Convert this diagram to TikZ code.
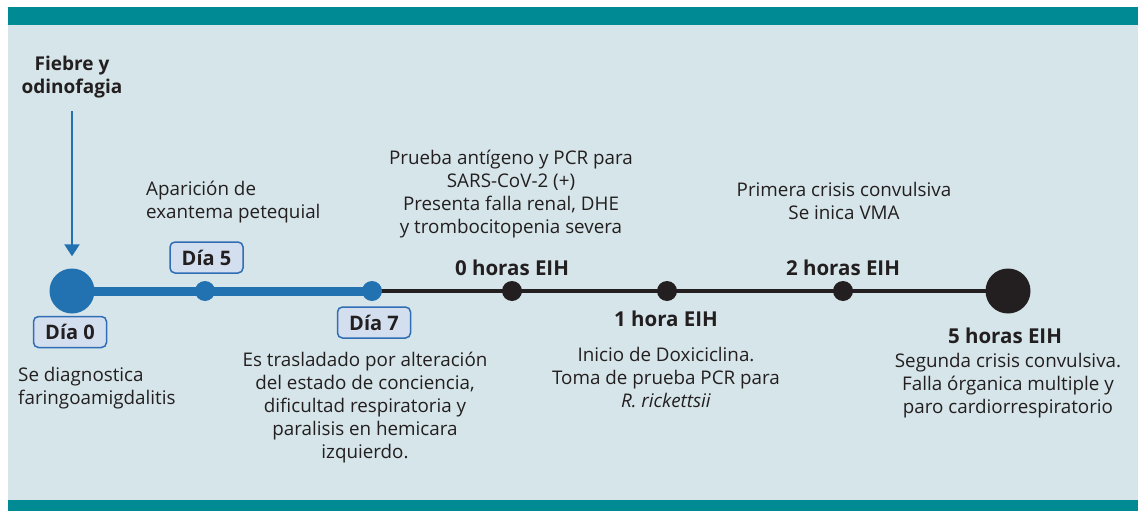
\documentclass[tikz,border=0pt]{standalone}
\usepackage{fontspec}
\setmainfont{Open Sans}
\usetikzlibrary{arrows.meta}
\definecolor{tealband}{HTML}{008B94}
\definecolor{panelbg}{HTML}{D6E5E9}
\definecolor{tlblue}{HTML}{2272B1}
\definecolor{boxfill}{HTML}{D3DEEF}
\definecolor{boxdraw}{HTML}{2F6DB5}
\definecolor{ink}{HTML}{231F20}
\pgfdeclarelayer{back}
\pgfsetlayers{back,main}
\tikzset{
  bigdot/.style={circle, inner sep=0, minimum size=45pt},
  smalldot/.style={circle, inner sep=0, minimum size=20pt},
  daybox/.style={draw=boxdraw, fill=boxfill, rounded corners=5pt, line width=1.5pt,
    font=\bfseries\fontsize{20}{22}\selectfont, text=ink, minimum width=73pt, minimum height=31pt, inner sep=0},
  txt/.style={align=center, font=\fontsize{18.8}{23}\selectfont, text=ink, inner sep=0},
  hrs/.style={font=\bfseries\fontsize{20.5}{23}\selectfont, text=ink, inner sep=0},
}
\begin{document}
\begin{tikzpicture}[x=1pt,y=-1pt]
\useasboundingbox (0,0) rectangle (1138,511);
\begin{pgfonlayer}{back}
\fill[white] (0,0) rectangle (1138,511);
\fill[panelbg] (8,7) rectangle (1138,511);
\fill[tealband] (8,7) rectangle (1138,25);
\fill[tealband] (8,500) rectangle (1138,511);
\end{pgfonlayer}

% timeline points
\node[bigdot, fill=tlblue] (d0) at (72,291) {};
\node[smalldot, fill=tlblue] (d5) at (205,291) {};
\node[smalldot, fill=tlblue] (d7) at (372,291) {};
\node[smalldot, fill=ink] (h0) at (512,291) {};
\node[smalldot, fill=ink] (h1) at (667,291) {};
\node[smalldot, fill=ink] (h2) at (843,291) {};
\node[bigdot, fill=ink] (h5) at (1008,291) {};

\begin{pgfonlayer}{back}
\draw[line width=9pt, tlblue] (d0.center) -- (d5.center) -- (d7.center);
\draw[line width=4pt, ink] (d7.center) -- (h0.center) -- (h1.center) -- (h2.center) -- (h5.center);
\end{pgfonlayer}

% day labels
\node[daybox] (l0) at (70,332) {Día 0};
\node[daybox] (l5) at (206.5,257.5) {Día 5};
\node[daybox] (l7) at (374,322.5) {Día 7};

% hour labels
\node[hrs] (t0) at (512,268) {0 horas EIH};
\node[hrs] (t1) at (666,319) {1 hora EIH};
\node[hrs] (t2) at (843,268) {2 horas EIH};
\node[hrs] (t5) at (1005,336) {5 horas EIH};

% texts
\node[txt, font=\bfseries\fontsize{19}{23}\selectfont] (fiebre) at (72,77) {Fiebre y\\odinofagia};
\draw[tlblue, line width=2.5pt, -{Triangle[width=15pt,length=12pt]}] ([yshift=-13pt]fiebre.south) -- ([yshift=12pt]d0.north);

\node[txt, align=left, anchor=west] (apar) at (146,202) {Aparición de\\exantema petequial};
\node[txt] (prueba) at (511,194) {Prueba antígeno y PCR para\\SARS-CoV-2 (+)\\Presenta falla renal, DHE\\y trombocitopenia severa};
\node[txt] (primera) at (844,201) {Primera crisis convulsiva\\Se inica VMA};
\node[txt, align=left, anchor=west] (diag) at (18,388) {Se diagnostica\\faringoamigdalitis};
\node[txt] (trasl) at (365,408) {Es trasladado por alteración\\del estado de conciencia,\\dificultad respiratoria y\\paralisis en hemicara\\izquierdo.};
\node[txt] (inicio) at (666,377) {Inicio de Doxiciclina.\\Toma de prueba PCR para\\\textit{R. rickettsii}};
\node[txt] (segunda) at (1008,386) {Segunda crisis convulsiva.\\Falla órganica multiple y\\paro cardiorrespiratorio};
\end{tikzpicture}
\end{document}
